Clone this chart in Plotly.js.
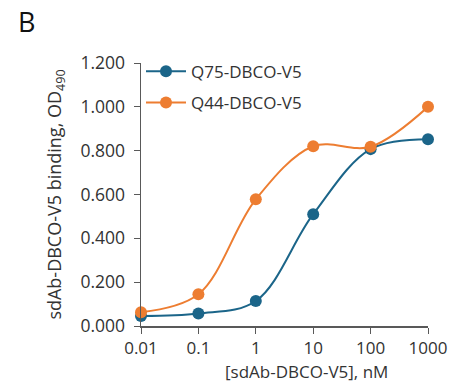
<!DOCTYPE html>
<html><head><meta charset="utf-8">
<script src="https://cdn.plot.ly/plotly-3.0.1.min.js"></script>
<style>body{margin:0;background:#fff}#chart{width:451px;height:385px}</style>
</head><body><div id="chart"></div>
<script>
const concentrations = [0.01, 0.1, 1, 10, 100, 1000];
const q75 = [0.046, 0.057, 0.114, 0.510, 0.807, 0.852];
const q44 = [0.063, 0.145, 0.578, 0.820, 0.818, 1.000];
const seriesNames = ["Q75-DBCO-V5", "Q44-DBCO-V5"];
const tickVals = [0.01, 0.1, 1, 10, 100, 1000];
const tickText = ["0.01", "0.1", "1", "10", "100", "1000"];
const xTitle = "[sdAb-DBCO-V5], nM";
const yTitle = "sdAb-DBCO-V5 binding, OD<sub>490</sub>";

const font = "Open Sans, sans-serif";
const traces = [
  {x: concentrations, y: q75, name: seriesNames[0], type: "scatter", mode: "lines+markers",
   line: {color: "#1b6589", width: 2, shape: "spline", smoothing: 1}, marker: {color: "#1b6589", size: 12},
   cliponaxis: false, legendgroup: "a"},
  {x: concentrations, y: q44, name: seriesNames[1], type: "scatter", mode: "lines+markers",
   line: {color: "#ed7d31", width: 2, shape: "spline", smoothing: 1}, marker: {color: "#ed7d31", size: 12},
   cliponaxis: false, legendgroup: "b"}
];
const layout = {
  width: 451, height: 385,
  margin: {l: 141, r: 23, t: 63, b: 59},
  paper_bgcolor: "#fff", plot_bgcolor: "#fff",
  font: {family: font, size: 17, color: "#333"},
  showlegend: true,
  legend: {x: 0.0, y: 1.035, xanchor: "left", yanchor: "top", font: {size: 17, color: "#333"},
           bgcolor: "rgba(0,0,0,0)", tracegroupgap: 6, itemwidth: 40},
  xaxis: {type: "log", range: [-2, 3], tickvals: tickVals, ticktext: tickText,
          showline: true, linecolor: "#595959", linewidth: 1.5, ticks: "outside", ticklen: 6,
          tickcolor: "#595959", showgrid: false, zeroline: false,
          tickfont: {size: 17, color: "#333"}},
  yaxis: {range: [0, 1.2], dtick: 0.2, tickformat: ".3f",
          showline: true, linecolor: "#595959", linewidth: 1.5, ticks: "outside", ticklen: 6,
          tickcolor: "#595959", showgrid: false, zeroline: false, ticklabelstandoff: 5,
          tickfont: {size: 17.5, color: "#333"},
          title: {text: yTitle, font: {size: 18, color: "#333"}, standoff: 14}},
  annotations: [
    {text: "B", xref: "paper", yref: "paper", x: -125/288, y: 1 + 41/263, xanchor: "left", yanchor: "middle",
     showarrow: false, font: {size: 27, color: "#111", family: font}},
    {text: xTitle, xref: "paper", yref: "paper", x: 165/287, y: -45/263, xanchor: "center", yanchor: "middle",
     showarrow: false, font: {size: 17, color: "#333", family: font}}
  ]
};
Plotly.newPlot("chart", traces, layout, {displayModeBar: false, staticPlot: true});
</script></body></html>
